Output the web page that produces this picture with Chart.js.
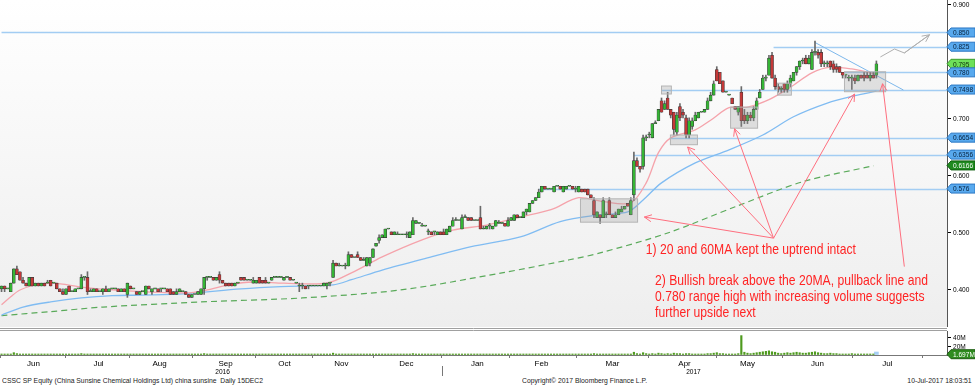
<!DOCTYPE html>
<html>
<head>
<meta charset="utf-8">
<script src="https://cdn.jsdelivr.net/npm/chart.js@4.4.1/dist/chart.umd.min.js"></script>
<style>
body { margin: 0; background: #fff; }
#wrap { position: relative; width: 975px; height: 385px; overflow: hidden; font-family: "Liberation Sans", Arial, sans-serif; }
#price { position: absolute; left: 0; top: 0; }
#vol { position: absolute; left: 0; top: 327px; }
.foot { position: absolute; top: 376px; font-size: 8px; line-height: 9px; color: #222; white-space: nowrap; transform: scaleX(0.85); transform-origin: left top; }
.foot.r { transform-origin: right top; }
</style>
</head>
<body>
<div id="wrap">
  <canvas id="price" width="975" height="327"></canvas>
  <canvas id="vol" width="975" height="49"></canvas>
  <div class="foot" style="left:2px">CSSC SP Equity (China Sunsine Chemical Holdings Ltd) china sunsine &nbsp;Daily 15DEC2</div>
  <div class="foot" style="left:522px">Copyright© 2017 Bloomberg Finance L.P.</div>
  <div class="foot r" style="right:3px">10-Jul-2017 18:03:51</div>
</div>
<script>
// daily candles, one per trading day (index 0 = start of Jun 2016, 285 = 10 Jul 2017)
var opens = [
  .400,.405,.400,.395,.410,.435,.430,.415,.410,.405,
  .420,.405,.410,.405,.410,.410,.415,.410,.410,.400,
  .395,.390,.405,.395,.395,.400,.400,.420,.420,.395,
  .395,.400,.395,.395,.400,.395,.400,.400,.400,.395,
  .400,.390,.405,.400,.395,.390,.395,.390,.405,.395,
  .400,.400,.400,.400,.400,.400,.395,.390,.395,.395,
  .395,.390,.385,.390,.390,.390,.400,.420,.420,.420,
  .415,.425,.415,.410,.410,.410,.405,.410,.420,.420,
  .415,.415,.410,.410,.420,.415,.415,.410,.415,.420,
  .420,.420,.415,.420,.420,.415,.410,.405,.405,.405,
  .405,.405,.405,.405,.405,.405,.405,.410,.420,.445,
  .440,.440,.440,.440,.460,.455,.460,.455,.450,.440,
  .445,.455,.475,.485,.490,.490,.505,.500,.495,.495,
  .495,.495,.495,.490,.495,.515,.515,.510,.510,.500,
  .500,.500,.495,.500,.500,.495,.500,.510,.520,.520,
  .505,.525,.525,.525,.520,.520,.525,.505,.505,.510,
  .505,.510,.515,.515,.515,.510,.520,.520,.530,.525,
  .525,.535,.535,.550,.555,.560,.570,.580,.575,.575,
  .570,.580,.580,.570,.575,.580,.580,.575,.570,.575,
  .575,.575,.565,.555,.525,.530,.525,.530,.555,.530,
  .525,.530,.535,.540,.550,.530,.565,.625,.615,.615,
  .665,.670,.665,.690,.695,.730,.715,.735,.715,.710,
  .675,.720,.710,.700,.670,.685,.695,.700,.710,.710,
  .715,.730,.740,.785,.780,.765,.745,.740,.735,.720,
  .710,.745,.705,.695,.705,.700,.715,.735,.750,.770,
  .775,.810,.770,.755,.750,.760,.750,.760,.765,.780,
  .790,.800,.805,.795,.785,.815,.815,.815,.795,.795,
  .800,.795,.790,.790,.780,.775,.770,.770,.770,.765,
  .775,.775,.775,.770,.775,.775
];
var highs = [
  .405,.405,.400,.410,.435,.440,.430,.420,.410,.420,
  .420,.410,.410,.410,.410,.415,.415,.410,.410,.400,
  .400,.400,.405,.395,.400,.400,.425,.420,.430,.400,
  .400,.400,.395,.400,.405,.400,.400,.400,.400,.400,
  .400,.410,.405,.400,.395,.395,.395,.405,.405,.400,
  .400,.400,.400,.400,.400,.400,.395,.400,.400,.395,
  .395,.390,.390,.390,.395,.400,.420,.420,.420,.420,
  .420,.430,.415,.410,.410,.410,.410,.410,.420,.420,
  .415,.415,.420,.415,.420,.415,.420,.410,.420,.420,
  .420,.420,.420,.420,.420,.415,.410,.410,.410,.405,
  .405,.405,.405,.405,.405,.410,.410,.410,.450,.445,
  .445,.440,.445,.465,.460,.455,.465,.455,.455,.455,
  .455,.470,.480,.495,.495,.505,.505,.500,.500,.500,
  .495,.495,.500,.500,.525,.520,.515,.515,.510,.505,
  .500,.500,.500,.500,.505,.505,.510,.525,.525,.520,
  .530,.530,.525,.525,.520,.520,.545,.510,.510,.515,
  .510,.520,.520,.515,.515,.525,.525,.530,.530,.525,
  .535,.540,.550,.555,.560,.575,.580,.580,.575,.575,
  .580,.580,.580,.580,.580,.580,.580,.580,.580,.575,
  .575,.575,.565,.560,.535,.530,.560,.535,.560,.530,
  .535,.540,.545,.545,.550,.560,.640,.630,.615,.670,
  .670,.675,.690,.695,.715,.735,.730,.745,.715,.710,
  .710,.725,.715,.705,.700,.700,.710,.710,.710,.715,
  .735,.745,.765,.790,.780,.765,.745,.740,.735,.720,
  .720,.755,.715,.710,.710,.720,.735,.750,.775,.775,
  .810,.815,.775,.760,.755,.760,.765,.775,.780,.790,
  .800,.805,.810,.810,.820,.835,.820,.820,.800,.800,
  .800,.800,.795,.790,.780,.775,.775,.775,.775,.775,
  .775,.780,.780,.780,.780,.800
];
var lows = [
  .395,.395,.400,.395,.410,.425,.415,.410,.405,.405,
  .405,.405,.405,.405,.405,.410,.405,.410,.400,.395,
  .390,.390,.395,.395,.395,.400,.400,.415,.390,.395,
  .395,.395,.395,.390,.395,.395,.400,.400,.395,.395,
  .395,.385,.400,.400,.390,.390,.395,.390,.400,.390,
  .400,.395,.395,.400,.395,.390,.390,.390,.395,.395,
  .390,.385,.385,.390,.390,.390,.390,.415,.420,.415,
  .415,.410,.410,.405,.405,.405,.405,.410,.415,.415,
  .415,.415,.410,.410,.410,.410,.410,.410,.415,.420,
  .420,.420,.415,.420,.415,.415,.410,.395,.400,.400,
  .400,.405,.405,.405,.405,.405,.400,.405,.420,.440,
  .440,.440,.435,.440,.455,.455,.455,.450,.450,.440,
  .440,.455,.475,.480,.490,.490,.505,.495,.495,.495,
  .495,.495,.490,.490,.495,.515,.515,.510,.510,.495,
  .495,.495,.495,.495,.495,.495,.500,.510,.520,.520,
  .505,.525,.520,.520,.520,.520,.505,.505,.505,.505,
  .505,.510,.515,.515,.510,.510,.520,.520,.525,.525,
  .525,.530,.535,.550,.555,.560,.570,.575,.575,.575,
  .570,.580,.575,.570,.575,.580,.575,.570,.570,.570,
  .570,.565,.560,.525,.525,.515,.525,.525,.530,.525,
  .525,.530,.535,.540,.545,.530,.555,.615,.605,.610,
  .660,.665,.665,.690,.695,.710,.715,.715,.700,.670,
  .670,.695,.700,.665,.665,.680,.695,.700,.710,.710,
  .715,.730,.740,.765,.760,.745,.745,.740,.725,.715,
  .705,.685,.690,.690,.695,.695,.715,.735,.750,.765,
  .775,.770,.750,.745,.745,.745,.745,.755,.765,.775,
  .785,.795,.795,.795,.785,.810,.805,.790,.790,.790,
  .785,.780,.780,.780,.770,.770,.765,.750,.760,.765,
  .770,.765,.770,.765,.770,.770
];
var closes = [
  .405,.400,.400,.410,.435,.425,.415,.410,.405,.420,
  .405,.410,.405,.410,.405,.410,.405,.410,.400,.395,
  .390,.400,.395,.395,.400,.400,.420,.420,.395,.395,
  .400,.395,.395,.400,.395,.400,.400,.400,.395,.400,
  .395,.410,.400,.400,.390,.395,.395,.405,.400,.400,
  .400,.395,.400,.400,.395,.390,.390,.395,.400,.395,
  .390,.385,.390,.390,.395,.400,.420,.420,.420,.415,
  .420,.415,.410,.405,.405,.405,.410,.410,.415,.415,
  .415,.415,.415,.415,.410,.410,.410,.410,.420,.420,
  .420,.420,.420,.420,.415,.415,.410,.405,.405,.400,
  .405,.405,.405,.405,.405,.410,.410,.410,.445,.440,
  .440,.440,.440,.460,.455,.455,.455,.450,.450,.455,
  .455,.470,.480,.490,.495,.505,.505,.495,.500,.495,
  .495,.495,.495,.500,.520,.520,.515,.510,.510,.500,
  .495,.500,.500,.495,.495,.505,.510,.520,.520,.520,
  .525,.525,.520,.520,.520,.520,.505,.505,.510,.510,
  .510,.520,.515,.515,.510,.520,.525,.530,.525,.525,
  .535,.540,.550,.555,.560,.570,.580,.575,.575,.575,
  .580,.580,.575,.580,.580,.580,.575,.575,.580,.570,
  .570,.565,.560,.530,.535,.525,.555,.530,.530,.525,
  .530,.540,.540,.545,.545,.555,.625,.615,.610,.665,
  .665,.670,.690,.690,.715,.710,.725,.715,.705,.680,
  .705,.700,.705,.670,.695,.695,.705,.710,.710,.715,
  .730,.740,.760,.765,.760,.745,.745,.740,.725,.715,
  .720,.695,.695,.705,.700,.715,.730,.745,.770,.770,
  .805,.770,.755,.750,.750,.750,.760,.770,.780,.790,
  .800,.800,.795,.805,.815,.815,.810,.795,.795,.795,
  .790,.785,.785,.780,.775,.775,.770,.770,.765,.775,
  .770,.770,.770,.775,.770,.795
];
// volume in millions of shares
var volumes = [
  2,1,1,2,5,3,2,1,1,2,  1,1,1,1,1,1,1,1,1,1,  1,1,1,1,1,1,3,1,2,1,
  1,1,1,1,1,1,1,1,1,1,  1,2,1,1,1,1,1,2,1,1,  1,1,1,1,1,1,1,1,1,1,
  1,1,1,1,1,2,3,1,1,1,  1,2,1,1,1,1,1,1,1,1,  1,1,1,1,1,1,1,1,1,1,
  1,1,1,1,1,1,1,2,1,1,  1,1,1,1,1,1,1,1,4,2,  1,1,1,2,1,1,1,1,1,2,
  2,2,2,2,1,2,1,1,1,1,  1,1,1,1,3,1,1,1,1,1,  1,1,1,1,1,1,2,2,1,1,
  2,1,1,1,1,1,2,1,1,1,  1,2,1,1,1,2,1,2,1,1,  2,1,2,1,2,2,2,1,1,1,
  1,1,1,1,1,1,1,1,1,1,  1,1,1,3,1,1,2,1,2,1,  1,1,1,1,1,1,6,3,2,5,
  3,2,3,2,4,3,2,3,2,4,  3,3,2,3,3,2,2,2,2,2,  3,3,4,5,3,3,1,1,2,2,
  3,42,6,4,3,4,5,6,7,8, 9,7,6,4,3,4,5,4,5,6,  5,4,4,5,6,7,5,4,3,3,
  4,3,3,2,2,2,2,3,2,2,  2,2,2,2,2,1.697
];
// moving averages: [day index, price]
var ma20 = [[0,.372],[3,.386],[6,.398],[11,.407],[17,.410],[26,.403],[36,.398],[46,.395],[61,.393],
  [67,.398],[74,.407],[82,.412],[92,.410],[106,.410],[114,.428],[124,.456],[137,.486],[147,.503],
  [158,.512],[169,.526],[179,.539],[188,.560],[196,.553],[205,.551],[210,.586],[214,.639],[218,.665],
  [226,.679],[231,.696],[237,.718],[243,.719],[250,.732],[257,.754],[264,.779],[270,.789],[277,.786],[285,.777]];
var ma60 = [[0,.354],[7,.368],[16,.377],[26,.384],[36,.388],[46,.389],[59,.391],[78,.400],[91,.404],
  [108,.407],[114,.416],[124,.433],[140,.456],[153,.474],[169,.491],[182,.518],[195,.530],[204,.535],
  [209,.556],[215,.586],[226,.621],[237,.644],[248,.670],[258,.702],[269,.726],[278,.739],[285,.747]];
var ma200 = [[0,.353],[16,.360],[33,.368],[65,.377],[98,.384],[130,.398],[163,.428],[185,.451],
  [195,.463],[217,.498],[239,.544],[261,.588],[284,.616]];

var monthLabels = ['Jun','Jul','Aug','Sep','Oct','Nov','Dec','Jan','Feb','Mar','Apr','May','Jun','Jul'];
var monthPos = [10.4, 31.6, 51.5, 73, 92.2, 110.7, 131.9, 155, 175.9, 199, 222.5, 243, 265.8, 288.6];
var yearLabels = ['2016', '2017'];
var yearPos = [72, 225.4];
var yearBreak = 143.6;

var priceTicks = [0.9, 0.7, 0.6, 0.5, 0.4];
var levels = [0.850, 0.825, 0.780, 0.7498, 0.6654, 0.6356, 0.576];
var levelText = ['0.850', '0.825', '0.780', '0.7498', '0.6654', '0.6356', '0.576'];
var levelFrom = [0, 251.5, 274.5, 215, 217.5, 206, 175];
var lastPrice = 0.795, lastMa200 = 0.6166, lastVolume = 1.697;
var volTicks = [40, 20];

// drawn annotations, in day index / price
var zones = [[188.6, 207.2, 0.517, 0.558], [215, 218.2, 0.742, 0.756], [217.9, 226.7, 0.653, 0.670],
  [237.5, 246.3, 0.682, 0.719], [252.8, 257.3, 0.740, 0.761], [274.6, 288, 0.746, 0.781]];
var pullbackX = [264.8, 293.8], pullbackY = [0.833, 0.749];
var projX = [286.3, 290.9, 294.1, 302.3], projY = [0.807, 0.821, 0.814, 0.846];
var arrowHub = [251.5, 0.489];
var arrowTips = [[209.4, 0.526], [223.5, 0.649], [238.8, 0.681], [277.9, 0.742]];
var arrow2 = [[294.1, 0.439], [287, 0.760]];
var note1 = '1) 20 and 60MA kept the uptrend intact';
var note2 = ['2) Bullish break above the 20MA, pullback line and',
  '0.780 range high with increasing volume suggests', 'further upside next'];
var note1At = [209.9, 0.4684];
var note2At = [212.9, 0.414, 0.386, 0.358];

var XMIN = -0.5, XMAX = 308;
var FONT = '"Liberation Sans", Arial, sans-serif';
var NARROW = 0.82;

var bodies = [], wicks = [];
for (var i = 0; i < closes.length; i++) {
  bodies.push({ x: i, y: [opens[i], closes[i]] });
  wicks.push({ x: i, y: [lows[i], highs[i]] });
}

// condensed text: the original uses a narrow face
function narrowText(ctx, text, x, y, sx) {
  ctx.save();
  ctx.translate(x, y);
  ctx.scale(sx, 1);
  ctx.fillText(text, 0, 0);
  ctx.restore();
}

function arrow(ctx, x1, y1, x2, y2) {
  ctx.beginPath();
  ctx.moveTo(x1, y1);
  ctx.lineTo(x2, y2);
  var a = Math.atan2(y2 - y1, x2 - x1);
  ctx.moveTo(x2 - 8 * Math.cos(a - 0.45), y2 - 8 * Math.sin(a - 0.45));
  ctx.lineTo(x2, y2);
  ctx.lineTo(x2 - 8 * Math.cos(a + 0.45), y2 - 8 * Math.sin(a + 0.45));
  ctx.stroke();
}

function tag(ctx, x, y, text, fill, stroke, color) {
  ctx.beginPath();
  ctx.moveTo(x, y);
  ctx.lineTo(x + 4, y - 4.5);
  ctx.lineTo(975, y - 4.5);
  ctx.lineTo(975, y + 4.5);
  ctx.lineTo(x + 4, y + 4.5);
  ctx.closePath();
  ctx.fillStyle = fill;
  ctx.fill();
  ctx.strokeStyle = stroke;
  ctx.lineWidth = 1;
  ctx.stroke();
  ctx.fillStyle = color;
  ctx.font = '8px ' + FONT;
  ctx.textBaseline = 'middle';
  ctx.textAlign = 'left';
  narrowText(ctx, text, x + 6, y + 0.5, NARROW);
}

var priceDecor = {
  id: 'priceDecor',
  beforeDraw: function (chart) {
    var ctx = chart.ctx, a = chart.chartArea;
    var g = ctx.createLinearGradient(0, a.top, 0, a.bottom);
    g.addColorStop(0, '#ffffff');
    g.addColorStop(1, '#eeeeee');
    ctx.save();
    ctx.fillStyle = g;
    ctx.fillRect(a.left, a.top, a.right - a.left, a.bottom - a.top);
    ctx.restore();
  },
  beforeDatasetsDraw: function (chart) {
    var ctx = chart.ctx, x = chart.scales.x, y = chart.scales.y, a = chart.chartArea;
    ctx.save();
    ctx.strokeStyle = '#a3cdf3';
    ctx.lineWidth = 1.5;
    for (var k = 0; k < levels.length; k++) {
      var py = Math.round(y.getPixelForValue(levels[k])) + 0.5;
      ctx.beginPath();
      ctx.moveTo(Math.max(a.left, x.getPixelForValue(levelFrom[k])), py);
      ctx.lineTo(a.right, py);
      ctx.stroke();
    }
    ctx.strokeStyle = '#7db8ec';
    ctx.lineWidth = 1;
    ctx.beginPath();
    ctx.moveTo(x.getPixelForValue(pullbackX[0]), y.getPixelForValue(pullbackY[0]));
    ctx.lineTo(x.getPixelForValue(pullbackX[1]), y.getPixelForValue(pullbackY[1]));
    ctx.stroke();
    ctx.restore();
  },
  afterDatasetsDraw: function (chart) {
    var ctx = chart.ctx, x = chart.scales.x, y = chart.scales.y;
    ctx.save();
    for (var k = 0; k < zones.length; k++) {
      var z = zones[k];
      var x0 = x.getPixelForValue(z[0]), x1 = x.getPixelForValue(z[1]);
      var y0 = y.getPixelForValue(z[3]), y1 = y.getPixelForValue(z[2]);
      ctx.fillStyle = 'rgba(150,150,150,0.28)';
      ctx.fillRect(x0, y0, x1 - x0, y1 - y0);
      ctx.strokeStyle = '#b4b4b4';
      ctx.lineWidth = 1;
      ctx.strokeRect(x0, y0, x1 - x0, y1 - y0);
    }
    ctx.strokeStyle = '#b0b0b0';
    ctx.lineWidth = 1;
    ctx.beginPath();
    for (k = 0; k < projX.length - 1; k++) {
      ctx.moveTo(x.getPixelForValue(projX[k]), y.getPixelForValue(projY[k]));
      ctx.lineTo(x.getPixelForValue(projX[k + 1]), y.getPixelForValue(projY[k + 1]));
    }
    ctx.stroke();
    var n = projX.length - 1;
    arrow(ctx, x.getPixelForValue(projX[n - 1]), y.getPixelForValue(projY[n - 1]),
      x.getPixelForValue(projX[n]), y.getPixelForValue(projY[n]));

    ctx.strokeStyle = '#ff6f7f';
    var hx = x.getPixelForValue(arrowHub[0]), hy = y.getPixelForValue(arrowHub[1]);
    for (k = 0; k < arrowTips.length; k++) {
      arrow(ctx, hx, hy, x.getPixelForValue(arrowTips[k][0]), y.getPixelForValue(arrowTips[k][1]));
    }
    arrow(ctx, x.getPixelForValue(arrow2[0][0]), y.getPixelForValue(arrow2[0][1]),
      x.getPixelForValue(arrow2[1][0]), y.getPixelForValue(arrow2[1][1]));

    ctx.fillStyle = '#ff2424';
    ctx.font = '15px ' + FONT;
    ctx.textBaseline = 'middle';
    ctx.textAlign = 'left';
    narrowText(ctx, note1, x.getPixelForValue(note1At[0]), y.getPixelForValue(note1At[1]), 0.81);
    for (k = 0; k < note2.length; k++) {
      narrowText(ctx, note2[k], x.getPixelForValue(note2At[0]), y.getPixelForValue(note2At[k + 1]), 0.81);
    }
    ctx.restore();
  },
  afterDraw: function (chart) {
    var ctx = chart.ctx, y = chart.scales.y, ax = chart.chartArea.right;
    ctx.save();
    ctx.font = '8px ' + FONT;
    ctx.textBaseline = 'middle';
    ctx.textAlign = 'left';
    ctx.fillStyle = '#000';
    ctx.strokeStyle = '#000';
    ctx.lineWidth = 1;
    for (var k = 0; k < priceTicks.length; k++) {
      var py = Math.round(y.getPixelForValue(priceTicks[k])) + 0.5;
      ctx.beginPath();
      ctx.moveTo(ax + 1, py);
      ctx.lineTo(ax + 4, py);
      ctx.stroke();
      narrowText(ctx, priceTicks[k].toFixed(3), ax + 6, py, NARROW);
    }
    for (k = 0; k < levels.length; k++) {
      if (levels[k] < lastPrice && (k === 0 || levels[k - 1] > lastPrice)) {
        tag(ctx, ax, y.getPixelForValue(lastPrice), lastPrice.toFixed(3), '#6ee05a', '#3a9a2a', '#0a2a0a');
      }
      if (levels[k] < lastMa200 && levels[k - 1] > lastMa200) {
        tag(ctx, ax, y.getPixelForValue(lastMa200), lastMa200.toFixed(4), '#1f8a1f', '#0f5f0f', '#ffffff');
      }
      tag(ctx, ax, y.getPixelForValue(levels[k]), levelText[k], '#58a9ee', '#2c78c4', '#06203c');
    }
    ctx.restore();
  }
};

new Chart(document.getElementById('price'), {
  type: 'bar',
  data: {
    datasets: [
      { type: 'line', data: ma200.map(function (p) { return { x: p[0], y: p[1] }; }),
        borderColor: '#5aaa5a', borderWidth: 1.2, borderDash: [6, 4], pointRadius: 0, tension: 0.3, order: 8 },
      { type: 'line', data: ma60.map(function (p) { return { x: p[0], y: p[1] }; }),
        borderColor: '#80bcf2', borderWidth: 1.3, pointRadius: 0, tension: 0.3, order: 7 },
      { type: 'line', data: ma20.map(function (p) { return { x: p[0], y: p[1] }; }),
        borderColor: '#f5a3ab', borderWidth: 1.3, pointRadius: 0, tension: 0.3, order: 6 },
      { data: wicks, backgroundColor: '#6a6a6a', barThickness: 1, grouped: false, order: 5 },
      { data: bodies, grouped: false, order: 1, barThickness: 3, minBarLength: 1,
        borderWidth: 0.6, borderColor: '#3a3a3a', borderSkipped: false,
        backgroundColor: function (c) { var i = c.dataIndex; return closes[i] >= opens[i] ? '#35b535' : '#c43838'; } }
    ]
  },
  options: {
    responsive: false,
    devicePixelRatio: 1,
    animation: false,
    layout: { padding: 0 },
    plugins: { legend: { display: false }, tooltip: { enabled: false } },
    scales: {
      x: { type: 'linear', min: XMIN, max: XMAX, offset: false, display: false },
      y: { position: 'right', min: 0.333, max: 0.907,
        ticks: { display: false },
        grid: { drawOnChartArea: false, drawTicks: false },
        border: { color: '#555' },
        afterFit: function (s) { s.width = 28; } }
    }
  },
  plugins: [priceDecor]
});

var volDecor = {
  id: 'volDecor',
  beforeDraw: function (chart) {
    var ctx = chart.ctx, a = chart.chartArea;
    ctx.save();
    ctx.strokeStyle = '#a0a0a0';
    ctx.lineWidth = 1;
    ctx.beginPath();
    ctx.moveTo(0, 1.5); ctx.lineTo(a.right, 1.5);
    ctx.moveTo(0, 3.5); ctx.lineTo(a.right, 3.5);
    ctx.stroke();
    ctx.restore();
  },
  afterDraw: function (chart) {
    var ctx = chart.ctx, x = chart.scales.x, y = chart.scales.y, ax = chart.chartArea.right;
    ctx.save();
    ctx.font = '8px ' + FONT;
    ctx.textBaseline = 'middle';
    ctx.textAlign = 'left';
    ctx.fillStyle = '#000';
    ctx.strokeStyle = '#000';
    for (var k = 0; k < volTicks.length; k++) {
      var py = Math.round(y.getPixelForValue(volTicks[k])) + 0.5;
      ctx.beginPath();
      ctx.moveTo(ax + 1, py); ctx.lineTo(ax + 4, py);
      ctx.stroke();
      narrowText(ctx, volTicks[k] + 'M', ax + 6, py, NARROW);
    }
    tag(ctx, ax, y.getPixelForValue(lastVolume), lastVolume.toFixed(3) + 'M', '#2f8c1f', '#1d5e12', '#ffffff');
    ctx.fillStyle = '#000';
    ctx.textAlign = 'center';
    for (k = 0; k < yearLabels.length; k++) {
      narrowText(ctx, yearLabels[k], x.getPixelForValue(yearPos[k]), 45, NARROW);
    }
    var bx = Math.round(x.getPixelForValue(yearBreak)) + 0.5;
    ctx.strokeStyle = '#777';
    ctx.beginPath();
    ctx.moveTo(bx, 39); ctx.lineTo(bx, 49);
    ctx.stroke();
    ctx.restore();
  }
};

var lastIdx = volumes.length - 1;
new Chart(document.getElementById('vol'), {
  type: 'bar',
  data: {
    datasets: [
      { data: volumes.slice(0, lastIdx).map(function (v, i) { return { x: i, y: v }; }),
        backgroundColor: '#4e9a1e', barThickness: 1.5, minBarLength: 1, grouped: false },
      { data: [{ x: lastIdx, y: volumes[lastIdx] }],
        backgroundColor: '#a6cff5', barThickness: 4, minBarLength: 3, grouped: false }
    ]
  },
  options: {
    responsive: false,
    devicePixelRatio: 1,
    animation: false,
    layout: { padding: { top: 4, left: 0, right: 0, bottom: 0 } },
    plugins: { legend: { display: false }, tooltip: { enabled: false } },
    scales: {
      x: { type: 'linear', min: XMIN, max: XMAX, offset: false, position: 'bottom',
        afterBuildTicks: function (s) { s.ticks = monthPos.map(function (v) { return { value: v }; }); },
        ticks: { autoSkip: false, maxRotation: 0, padding: 1, color: '#000',
          font: { family: FONT, size: 8 },
          callback: function (v, i) { return monthLabels[i]; } },
        grid: { drawOnChartArea: false, tickLength: 3, color: '#777' },
        border: { color: '#777' },
        afterFit: function (s) { s.height = 21; } },
      y: { position: 'right', min: 0, max: 52,
        ticks: { display: false },
        grid: { drawOnChartArea: false, drawTicks: false },
        border: { color: '#555' },
        afterFit: function (s) { s.width = 28; } }
    }
  },
  plugins: [volDecor]
});
</script>
</body>
</html>
